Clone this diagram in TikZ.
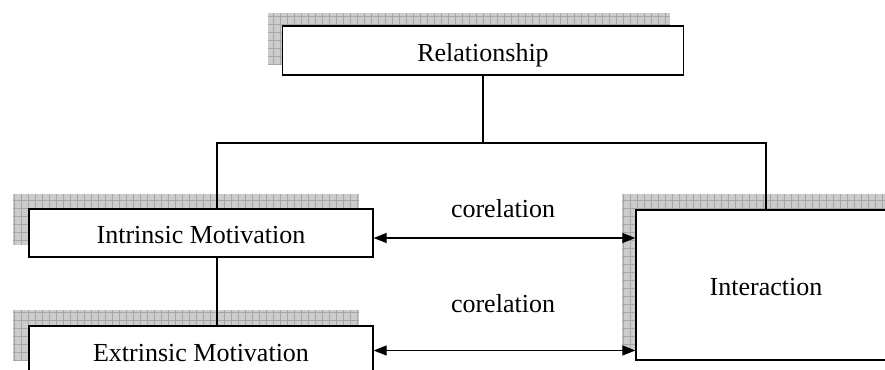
\documentclass[tikz,border=0pt]{standalone}
\usepackage{fontspec}
\setmainfont{Liberation Serif}
\usetikzlibrary{arrows.meta}
\tikzset{
  box/.style={draw=black, line width=1.3pt, fill=white, inner sep=0pt,
    text height=21pt, text depth=0pt, font=\fontsize{26}{30}\selectfont},
  lbl/.style={inner sep=0pt, anchor=base, font=\fontsize{26}{30}\selectfont},
  conn/.style={draw=black, line width=1.3pt},
  arr/.style={conn, {Triangle[length=13pt,width=10pt]}-{Triangle[length=13pt,width=10pt]}},
  shadefill/.style={fill=gray!40},
  shadegrid/.style={draw=gray!70, line width=0.6pt, xstep=7pt, ystep=8pt}
}
\begin{document}
\begin{tikzpicture}[x=1pt,y=-1pt]
\useasboundingbox (0,0) rectangle (885,369);
\clip (0,0) rectangle (885,369);
% shadows
\fill[shadefill] (268,13) rectangle (670,65);
\draw[shadegrid] (268,13) grid (670,65);
\fill[shadefill] (13,194) rectangle (359,245);
\draw[shadegrid] (13,194) grid (359,245);
\fill[shadefill] (13,310) rectangle (359,361);
\draw[shadegrid] (13,310) grid (359,361);
\fill[shadefill] (622,194) rectangle (885,350);
\draw[shadegrid] (622,194) grid (885,350);
% boxes
\node[box, minimum width=401pt, minimum height=49pt] (rel) at (483,50.5) {Relationship};
\node[box, minimum width=344pt, minimum height=48pt] (intr) at (201,233) {Intrinsic Motivation};
\node[box, minimum width=344pt, minimum height=49pt] (extr) at (201,350.5) {Extrinsic Motivation};
\node[box, minimum width=260pt, minimum height=150pt] (inter) at (766,285) {Interaction};
% junctions
\coordinate (jm) at (rel.south |- 0,143);
\coordinate (jl) at (217,143);
\coordinate (jr) at (inter.north |- 0,143);
\draw[conn] (rel.south) -- (jm);
\draw[conn] (jl |- intr.north) -- (jl) -- (jr) -- (inter.north);
\draw[conn] (jl |- intr.south) -- (jl |- extr.north);
% correlation arrows
\draw[arr] ([yshift=-5pt]intr.east) -- ([yshift=-5pt]intr.east -| inter.west);
\draw[arr] (extr.east) -- (extr.east -| inter.west);
\node[lbl] (c1) at (503,217) {corelation};
\node[lbl] (c2) at (503,312) {corelation};
\end{tikzpicture}
\end{document}
